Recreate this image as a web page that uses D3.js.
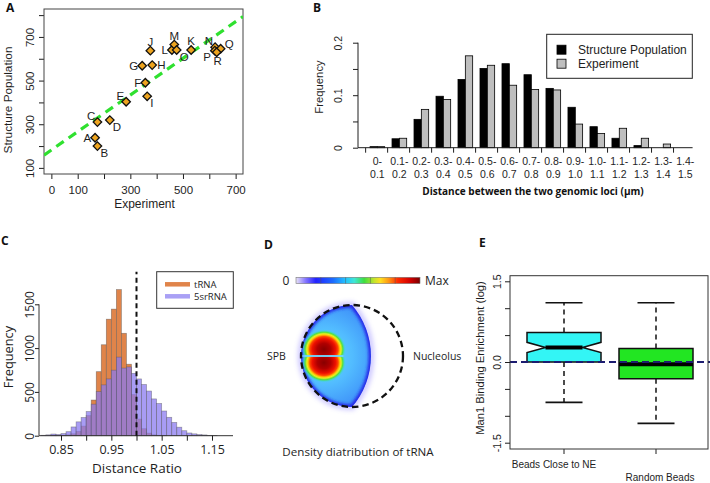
<!DOCTYPE html>
<html>
<head>
<meta charset="utf-8">
<script src="https://cdn.jsdelivr.net/npm/d3@7"></script>
<style>
  body { margin: 0; background: #fff; }
  svg { display: block; }
</style>
</head>
<body>
<svg id="fig" width="710" height="483"></svg>
<script>
// ---- panel A: experiment vs structure population ----
var locusNames   = ['A','B','C','D','E','F','G','H','I','J','K','L','M','N','O','P','Q','R'];
var experimentNm = [166,175,175,222,284,357,345,383,364,376,531,458,467,622,476,621,643,628];
var structureNm  = [238,200,310,319,403,490,568,571,428,637,640,640,665,653,640,637,646,630];
var labelSide    = ['w','se','nw','se','nw','w','w','e','se','n','n','w','n','nw','se','sw','ne','s'];
var fitIntercept = 182, fitSlope = 0.84;
var expTicks = [0,100,200,300,400,500,600,700], expLabels = [0,100,300,500,700];
var strTicks = [100,200,300,400,500,600,700,800], strLabels = [100,300,500,700];

// ---- panel B: distance distribution ----
var binLow  = ['0-','0.1-','0.2-','0.3-','0.4-','0.5-','0.6-','0.7-','0.8-','0.9-','1.0-','1.1-','1.2-','1.3-','1.4-'];
var binHigh = ['0.1','0.2','0.3','0.4','0.5','0.6','0.7','0.8','0.9','1.0','1.1','1.2','1.3','1.4','1.5'];
var structFreq = [0.002,0.017,0.054,0.098,0.130,0.151,0.160,0.139,0.113,0.077,0.040,0.018,0.004,0,0];
var exptFreq   = [0.002,0.018,0.073,0.092,0.175,0.157,0.119,0.111,0.110,0.045,0.027,0.037,0.018,0.007,0];
var freqTicks = [0,0.05,0.1,0.15,0.2], freqLabels = [0,0.1,0.2];

// ---- panel C: distance ratio histograms ----
var ratioBins = [0.81,0.82,0.83,0.84,0.85,0.86,0.87,0.88,0.89,0.90,0.91,0.92,0.93,0.94,0.95,0.96,0.97,0.98,
                 0.99,1.00,1.01,1.02,1.03,1.04,1.05,1.06,1.07,1.08,1.09,1.10,1.11,1.12,1.13,1.14,1.15];
var trnaCounts = [0,0,1,3,5,10,22,50,110,230,407,731,1038,1330,1445,1668,1169,816,
                  470,190,80,30,10,4,1,0,0,0,0,0,0,0,0,0,0];
var srnaCounts = [5,10,19,14,24,46,100,158,208,276,360,503,580,648,748,897,772,785,
                  712,648,585,510,420,368,282,210,152,97,57,31,21,13,9,4,2];
var ratioTicks = [0.85,0.90,0.95,1.00,1.05,1.10,1.15], ratioLabels = [0.85,0.95,1.05,1.15];
var countTicks = [0,500,1000,1500];

// ---- panel E: Man1 enrichment boxplots ----
var boxNames   = ['Beads Close to NE','Random Beads'];
var whiskerLo  = [-0.75,-1.14];
var quart1     = [0.00,-0.31];
var medians    = [0.27,-0.04];
var quart3     = [0.55,0.25];
var whiskerHi  = [1.10,1.10];
var notchHalf  = [0.096,0];
var enrichTicks = [-1.5,-1,-0.5,0,0.5,1,1.5], enrichLabels = [-1.5,0,1.5];

// ---- panel D colour key ----
var densityKey = ['#e8e2f6','#8273ff','#2222ff','#1c6cff','#22c4ff','#3fe6d6','#3ede3e','#c4e42c','#ffe020','#ff9412','#ff2a00','#d20000','#7a0000'];
var keyStops   = [0,0.08,0.16,0.3,0.4,0.47,0.55,0.63,0.68,0.75,0.82,0.92,1];

var SANS = '"Liberation Sans", Arial, sans-serif';
var MYR = '"Open Sans", sans-serif';
var ink = '#1e1e1e';

var svg = d3.select('#fig');
var defs = svg.append('defs');

function cleanAxis(g, size, fam) {
  g.attr('font-family', fam || SANS).attr('font-size', size);
  g.select('.domain').remove();
  g.selectAll('.tick line').attr('stroke', ink);
  g.selectAll('.tick text').attr('fill', ink);
}

// panel letters
[['A',6,12],['B',313,12],['C',1,245],['D',264,249],['E',479,247]].forEach(function(p){
  svg.append('text').attr('x',p[1]).attr('y',p[2]).text(p[0])
    .attr('font-family',MYR).attr('font-weight','bold').attr('font-size',12).attr('fill','#111');
});

// ================= A =================
var aBox = {l:44, r:243, t:9, b:174};
var xA = d3.scaleLinear().domain([-28,728]).range([aBox.l,aBox.r]);
var yA = d3.scaleLinear().domain([72,828]).range([aBox.b,aBox.t]);
var gA = svg.append('g');

defs.append('clipPath').attr('id','clipA').append('rect')
  .attr('x',aBox.l).attr('y',aBox.t).attr('width',aBox.r-aBox.l).attr('height',aBox.b-aBox.t);

gA.append('g').attr('transform','translate(0,'+aBox.b+')')
  .call(d3.axisBottom(xA).tickValues(expTicks).tickSize(5).tickPadding(6.5)
    .tickFormat(function(d){ return expLabels.indexOf(d) >= 0 ? d : ''; }))
  .call(cleanAxis, 11.5);

gA.append('g').attr('transform','translate('+aBox.l+',0)')
  .call(d3.axisLeft(yA).tickValues(strTicks).tickSize(5)
    .tickFormat(function(d){ return strLabels.indexOf(d) >= 0 ? d : ''; }))
  .call(cleanAxis, 11.5)
  .selectAll('.tick text').attr('x',null).attr('dy',null).attr('text-anchor','middle')
  .attr('transform','translate(-10,0) rotate(-90)');

gA.append('rect').attr('x',aBox.l).attr('y',aBox.t).attr('width',aBox.r-aBox.l).attr('height',aBox.b-aBox.t)
  .attr('fill','none').attr('stroke','#444').attr('stroke-width',1);

var fitX = xA.domain();
gA.append('line').attr('clip-path','url(#clipA)')
  .attr('x1',xA(fitX[0])).attr('y1',yA(fitIntercept+fitSlope*fitX[0]))
  .attr('x2',xA(fitX[1])).attr('y2',yA(fitIntercept+fitSlope*fitX[1]))
  .attr('stroke','#2fe02f').attr('stroke-width',3.2).attr('stroke-dasharray','9,6');

var labelOff = {w:[-4,4,'end'], e:[5,4,'start'], n:[0,-5,'middle'], s:[1,13,'middle'],
                nw:[-2,-2,'end'], ne:[4,-1,'start'], se:[3,11,'start'], sw:[-4,10,'end']};
var diamond = d3.symbol().type(d3.symbolSquare).size(36);
locusNames.forEach(function(n,i){
  var px = xA(experimentNm[i]), py = yA(structureNm[i]);
  gA.append('path').attr('d',diamond())
    .attr('transform','translate('+px+','+py+') rotate(45)')
    .attr('fill','#eda41f').attr('stroke','#111').attr('stroke-width',1.3);
  var o = labelOff[labelSide[i]];
  gA.append('text').attr('x',px+o[0]).attr('y',py+o[1]).attr('text-anchor',o[2])
    .attr('font-family',SANS).attr('font-size',11.5).attr('fill',ink).text(n);
});

gA.append('text').attr('x',(aBox.l+aBox.r)/2+1).attr('y',208).attr('text-anchor','middle')
  .attr('font-family',SANS).attr('font-size',12).attr('fill',ink).text('Experiment');
gA.append('text').attr('transform','translate(12,100) rotate(-90)').attr('text-anchor','middle')
  .attr('font-family',SANS).attr('font-size',11.8).attr('fill',ink).text('Structure Population');

// ================= B =================
var xB = d3.scaleLinear().domain([0,45]).range([362.7,692.6]);
var yB = d3.scaleLinear().domain([0,0.2]).range([147.7,42.7]);
var gB = svg.append('g');

binLow.forEach(function(lbl,g){
  gB.append('rect').attr('x',xB(1+3*g)).attr('width',xB(2)-xB(1))
    .attr('y',yB(structFreq[g])).attr('height',yB(0)-yB(structFreq[g]))
    .attr('fill','#000').attr('stroke','#000').attr('stroke-width',0.8);
  gB.append('rect').attr('x',xB(2+3*g)).attr('width',xB(2)-xB(1))
    .attr('y',yB(exptFreq[g])).attr('height',yB(0)-yB(exptFreq[g]))
    .attr('fill','#bebebe').attr('stroke','#000').attr('stroke-width',0.8);
  gB.append('line').attr('x1',xB(0.4+3*g)).attr('x2',xB(0.4+3*g))
    .attr('y1',yB(0)).attr('y2',yB(0)+5).attr('stroke',ink);
  var t = gB.append('text').attr('text-anchor','middle').attr('font-family',SANS)
    .attr('font-size',10.5).attr('fill',ink);
  t.append('tspan').attr('x',xB(2+3*g)).attr('y',165).text(lbl);
  t.append('tspan').attr('x',xB(2+3*g)).attr('y',178.3).text(binHigh[g]);
});
gB.append('line').attr('x1',358).attr('x2',xB(45)).attr('y1',yB(0)).attr('y2',yB(0))
  .attr('stroke',ink).attr('stroke-width',1);

gB.append('g').attr('transform','translate(358,0)')
  .call(d3.axisLeft(yB).tickValues(freqTicks).tickSize(5)
    .tickFormat(function(d){ return freqLabels.indexOf(d) >= 0 ? d : ''; }))
  .call(function(g){
    cleanAxis(g, 10.5);
    g.append('line').attr('y1',yB(0)).attr('y2',yB(0.2)).attr('stroke',ink);
  })
  .selectAll('.tick text').attr('x',null).attr('dy',null).attr('text-anchor','middle')
  .attr('transform','translate(-16,0) rotate(-90)');

gB.append('text').attr('transform','translate(322.5,87) rotate(-90)').attr('text-anchor','middle')
  .attr('font-family',SANS).attr('font-size',11.3).attr('fill',ink).text('Frequency');
gB.append('text').attr('x',533).attr('y',194.8).attr('text-anchor','middle')
  .attr('font-family',MYR).attr('font-weight','bold').attr('font-size',10).attr('fill','#111')
  .text('Distance between the two genomic loci (\u03bcm)');

var legB = gB.append('g');
legB.append('rect').attr('x',546.7).attr('y',34.3).attr('width',145.6).attr('height',44)
  .attr('fill','#fff').attr('stroke','#222').attr('stroke-width',1);
[['Structure Population','#000',49.7],['Experiment','#bebebe',63.7]].forEach(function(e){
  legB.append('rect').attr('x',557).attr('y',e[2]-4.5).attr('width',9).attr('height',9)
    .attr('fill',e[1]).attr('stroke','#000').attr('stroke-width',0.8);
  legB.append('text').attr('x',578).attr('y',e[2]+4.2).attr('font-family',SANS)
    .attr('font-size',12).attr('fill',ink).text(e[0]);
});

// ================= C =================
var xC = d3.scaleLinear().domain([0.85,1.15]).range([61,212]);
var yC = d3.scaleLinear().domain([0,1500]).range([435.7,304.3]);
var gC = svg.append('g');

gC.selectAll('rect.trna').data(ratioBins).enter().append('rect').attr('class','trna')
  .attr('x',function(d){ return xC(d); }).attr('width',xC(0.86)-xC(0.85))
  .attr('y',function(d,i){ return yC(trnaCounts[i]); })
  .attr('height',function(d,i){ return yC(0)-yC(trnaCounts[i]); })
  .attr('fill','#e0844a').attr('stroke','rgba(80,80,80,0.55)').attr('stroke-width',0.7);
gC.selectAll('rect.srna').data(ratioBins).enter().append('rect').attr('class','srna')
  .attr('x',function(d){ return xC(d); }).attr('width',xC(0.86)-xC(0.85))
  .attr('y',function(d,i){ return yC(srnaCounts[i]); })
  .attr('height',function(d,i){ return yC(0)-yC(srnaCounts[i]); })
  .attr('fill','rgba(138,122,240,0.74)').attr('stroke','rgba(80,80,80,0.5)').attr('stroke-width',0.7);

gC.append('line').attr('x1',39).attr('x2',233).attr('y1',yC(0)).attr('y2',yC(0))
  .attr('stroke','#333').attr('stroke-width',1);
gC.append('g').attr('transform','translate(0,'+yC(0)+')')
  .call(d3.axisBottom(xC).tickValues(ratioTicks).tickSize(5).tickPadding(4)
    .tickFormat(function(d){ return ratioLabels.indexOf(d) >= 0 ? d3.format('.2f')(d) : ''; }))
  .call(cleanAxis, 12.5, MYR);
gC.append('g').attr('transform','translate(39,0)')
  .call(d3.axisLeft(yC).tickValues(countTicks).tickSize(4).tickFormat(d3.format('d')))
  .call(function(g){
    cleanAxis(g, 12, MYR);
    g.append('line').attr('y1',yC(0)).attr('y2',yC(1500)).attr('stroke','#333');
  })
  .selectAll('.tick text').attr('x',null).attr('dy',null).attr('text-anchor','middle')
  .attr('transform','translate(-5,0) rotate(-90)');

gC.append('line').attr('x1',xC(1)).attr('x2',xC(1)).attr('y1',yC(0)).attr('y2',271.7)
  .attr('stroke','#111').attr('stroke-width',2).attr('stroke-dasharray','5,3.5');

gC.append('text').attr('x',137).attr('y',472.6).attr('text-anchor','middle')
  .attr('font-family',MYR).attr('font-size',13.5).attr('fill',ink).text('Distance Ratio');
gC.append('text').attr('transform','translate(13,357) rotate(-90)').attr('text-anchor','middle')
  .attr('font-family',MYR).attr('font-size',12.8).attr('fill',ink).text('Frequency');

var legC = gC.append('g');
legC.append('rect').attr('x',156.7).attr('y',271.7).attr('width',76.6).attr('height',36.6)
  .attr('fill','#fff').attr('stroke','#333').attr('stroke-width',1);
[['tRNA','#e0844a',284.3],['5srRNA','#a9a0f5',296.3]].forEach(function(e){
  legC.append('line').attr('x1',165).attr('x2',190).attr('y1',e[2]).attr('y2',e[2])
    .attr('stroke',e[1]).attr('stroke-width',4.5);
  legC.append('text').attr('x',194).attr('y',e[2]+3.3).attr('font-family',MYR)
    .attr('font-size',9.5).attr('fill',ink).text(e[0]);
});

// ================= D =================
var gD = svg.append('g');
var nuc = {cx:352, cy:356, r:51};
var uD = d3.scaleLinear().domain([0,1]).range([0,nuc.r]);
var keyX = d3.scaleLinear().domain([0,1]).range([296,420]);

var keyGrad = defs.append('linearGradient').attr('id','keyGrad');
keyStops.forEach(function(s,i){
  keyGrad.append('stop').attr('offset',s).attr('stop-color',densityKey[i]);
});
gD.append('rect').attr('x',keyX(0)).attr('y',277.3).attr('width',keyX(1)-keyX(0)).attr('height',6.3)
  .attr('fill','url(#keyGrad)').attr('stroke','#777').attr('stroke-width',0.6);
[0.2,0.4,0.6,0.8].forEach(function(v){
  gD.append('line').attr('x1',keyX(v)).attr('x2',keyX(v)).attr('y1',277.3).attr('y2',283.6)
    .attr('stroke','#555').attr('stroke-width',0.5);
});
gD.append('text').attr('x',286).attr('y',285).attr('text-anchor','middle')
  .attr('font-family',MYR).attr('font-size',12).attr('fill',ink).text('0');
gD.append('text').attr('x',425).attr('y',285)
  .attr('font-family',MYR).attr('font-size',12).attr('fill',ink).text('Max');

// lens-shaped occupied region: left half of nucleus closed by a wider arc
var topY = nuc.cy - nuc.r, botY = nuc.cy + nuc.r, bigR = uD(1.53);
var lens = 'M' + nuc.cx + ',' + topY +
  ' A' + nuc.r + ',' + nuc.r + ' 0 0 0 ' + nuc.cx + ',' + botY +
  ' A' + bigR + ',' + bigR + ' 0 0 0 ' + nuc.cx + ',' + topY + 'Z';

defs.append('clipPath').attr('id','lensClip').append('path').attr('d',lens);
var blur1 = defs.append('filter').attr('id','blur1').attr('x','-20%').attr('y','-20%').attr('width','140%').attr('height','140%');
blur1.append('feGaussianBlur').attr('stdDeviation',1.6);
var blur2 = defs.append('filter').attr('id','blur2').attr('x','-20%').attr('y','-20%').attr('width','140%').attr('height','140%');
blur2.append('feGaussianBlur').attr('stdDeviation',2.6);
var blur05 = defs.append('filter').attr('id','blur05');
blur05.append('feGaussianBlur').attr('stdDeviation',0.7);

var fillGrad = defs.append('radialGradient').attr('id','lensFill')
  .attr('gradientUnits','userSpaceOnUse').attr('cx',nuc.cx-uD(0.55)).attr('cy',nuc.cy).attr('r',uD(1.25));
[[0,'#66d6ff'],[0.45,'#52bcff'],[0.8,'#4299fa'],[1,'#3570f5']].forEach(function(s){
  fillGrad.append('stop').attr('offset',s[0]).attr('stop-color',s[1]);
});

gD.append('path').attr('d',lens).attr('fill','none').attr('stroke','#8c80ff')
  .attr('stroke-width',6).attr('opacity',0.45).attr('filter','url(#blur2)');
var lensG = gD.append('g').attr('clip-path','url(#lensClip)');
lensG.append('path').attr('d',lens).attr('fill','url(#lensFill)');
lensG.append('path').attr('d',lens).attr('fill','none').attr('stroke','#2626e8')
  .attr('stroke-width',5).attr('filter','url(#blur1)');

var hot = defs.append('radialGradient').attr('id','hot');
[[0,'#880000',1],[0.3,'#b00000',1],[0.52,'#ee1000',1],[0.63,'#ff4800',1],[0.7,'#ffb800',1],
 [0.76,'#eaf020',1],[0.84,'#52e040',1],[0.92,'#40d4d0',0.6],[1,'#55c8ff',0]].forEach(function(s){
  hot.append('stop').attr('offset',s[0]).attr('stop-color',s[1]).attr('stop-opacity',s[2]);
});
defs.append('clipPath').attr('id','upperHalf').append('rect')
  .attr('x',nuc.cx-nuc.r).attr('y',topY).attr('width',2*nuc.r).attr('height',nuc.r-0.8);
defs.append('clipPath').attr('id','lowerHalf').append('rect')
  .attr('x',nuc.cx-nuc.r).attr('y',nuc.cy+0.8).attr('width',2*nuc.r).attr('height',nuc.r);
[['upperHalf',-0.13],['lowerHalf',0.13]].forEach(function(h){
  lensG.append('g').attr('clip-path','url(#'+h[0]+')')
    .append('ellipse').attr('cx',nuc.cx-uD(0.55)).attr('cy',nuc.cy+uD(h[1]))
    .attr('rx',uD(0.44)).attr('ry',uD(0.4)).attr('fill','url(#hot)');
});
lensG.append('line').attr('x1',nuc.cx-uD(0.98)).attr('x2',nuc.cx-uD(0.17))
  .attr('y1',nuc.cy).attr('y2',nuc.cy).attr('stroke','#74d8ff').attr('stroke-width',1.5);
lensG.append('line').attr('x1',nuc.cx-uD(0.17)).attr('x2',nuc.cx+uD(0.4))
  .attr('y1',nuc.cy).attr('y2',nuc.cy).attr('stroke','#2a34d6').attr('stroke-width',1.8)
  .attr('filter','url(#blur05)');

gD.append('circle').attr('cx',nuc.cx).attr('cy',nuc.cy).attr('r',nuc.r)
  .attr('fill','none').attr('stroke','#111').attr('stroke-width',2.3).attr('stroke-dasharray','6.5,4');

gD.append('text').attr('x',267).attr('y',360).attr('font-family',MYR).attr('font-size',10.5)
  .attr('fill',ink).text('SPB');
gD.append('text').attr('x',413).attr('y',360).attr('font-family',MYR).attr('font-size',10.5)
  .attr('fill',ink).text('Nucleolus');
gD.append('text').attr('x',358).attr('y',456).attr('text-anchor','middle').attr('font-family',MYR)
  .attr('font-size',11.6).attr('fill',ink).text('Density diatribution of tRNA');

// ================= E =================
var eBox = {l:510, r:708, t:275.7, b:449};
var xE = d3.scaleLinear().domain([1,2]).range([564,656]);
var yE = d3.scaleLinear().domain([-1.5,1.5]).range([442.7,281.3]);
var boxW = 74;
var gE = svg.append('g');

boxNames.forEach(function(name,i){
  var cx = xE(i+1), L = cx-boxW/2, R = cx+boxW/2;
  var dash = '5,4';
  gE.append('line').attr('x1',cx).attr('x2',cx).attr('y1',yE(quart3[i])).attr('y2',yE(whiskerHi[i]))
    .attr('stroke','#111').attr('stroke-width',1.5).attr('stroke-dasharray',dash);
  gE.append('line').attr('x1',cx).attr('x2',cx).attr('y1',yE(quart1[i])).attr('y2',yE(whiskerLo[i]))
    .attr('stroke','#111').attr('stroke-width',1.5).attr('stroke-dasharray',dash);
  [whiskerHi[i],whiskerLo[i]].forEach(function(v){
    gE.append('line').attr('x1',cx-boxW/4).attr('x2',cx+boxW/4).attr('y1',yE(v)).attr('y2',yE(v))
      .attr('stroke','#111').attr('stroke-width',1.6);
  });
  var pts, medL = L, medR = R;
  if (notchHalf[i] > 0) {
    var nLo = medians[i]-notchHalf[i], nHi = medians[i]+notchHalf[i];
    pts = [[L,quart1[i]],[L,nLo],[L+boxW/4,medians[i]],[L,nHi],[L,quart3[i]],
           [R,quart3[i]],[R,nHi],[R-boxW/4,medians[i]],[R,nLo],[R,quart1[i]]];
    medL = L+boxW/4; medR = R-boxW/4;
  } else {
    pts = [[L,quart1[i]],[L,quart3[i]],[R,quart3[i]],[R,quart1[i]]];
  }
  gE.append('path').attr('d','M'+pts.map(function(p){ return p[0]+','+yE(p[1]); }).join('L')+'Z')
    .attr('fill', i === 0 ? '#33f5f5' : '#22e622').attr('stroke','#111').attr('stroke-width',1.5);
  gE.append('line').attr('x1',medL).attr('x2',medR).attr('y1',yE(medians[i])).attr('y2',yE(medians[i]))
    .attr('stroke','#000').attr('stroke-width',4);
  gE.append('line').attr('x1',cx).attr('x2',cx).attr('y1',eBox.b).attr('y2',eBox.b+5).attr('stroke',ink);
});
gE.append('text').attr('x',xE(1)-10).attr('y',468.3).attr('text-anchor','middle')
  .attr('font-family',SANS).attr('font-size',10).attr('fill',ink).text(boxNames[0]);
gE.append('text').attr('x',xE(2)+4).attr('y',481.3).attr('text-anchor','middle')
  .attr('font-family',SANS).attr('font-size',10).attr('fill',ink).text(boxNames[1]);

gE.append('line').attr('x1',eBox.l).attr('x2',710).attr('y1',yE(0)).attr('y2',yE(0))
  .attr('stroke','#1c1c70').attr('stroke-width',2).attr('stroke-dasharray','7,4');

gE.append('rect').attr('x',eBox.l).attr('y',eBox.t).attr('width',eBox.r-eBox.l).attr('height',eBox.b-eBox.t)
  .attr('fill','none').attr('stroke','#333').attr('stroke-width',1);

gE.append('g').attr('transform','translate('+eBox.l+',0)')
  .call(d3.axisLeft(yE).tickValues(enrichTicks).tickSize(5)
    .tickFormat(function(d){ return enrichLabels.indexOf(d) >= 0 ? d3.format('.1f')(d).replace('\u2212','-') : ''; }))
  .call(cleanAxis, 10.5)
  .selectAll('.tick text').attr('x',null).attr('dy',null).attr('text-anchor','middle')
  .attr('transform','translate(-9,0) rotate(-90)');

gE.append('text').attr('transform','translate(484,358) rotate(-90)').attr('text-anchor','middle')
  .attr('font-family',SANS).attr('font-size',11.2).attr('fill',ink).text('Man1 Binding Enrichment (log)');
</script>
</body>
</html>
